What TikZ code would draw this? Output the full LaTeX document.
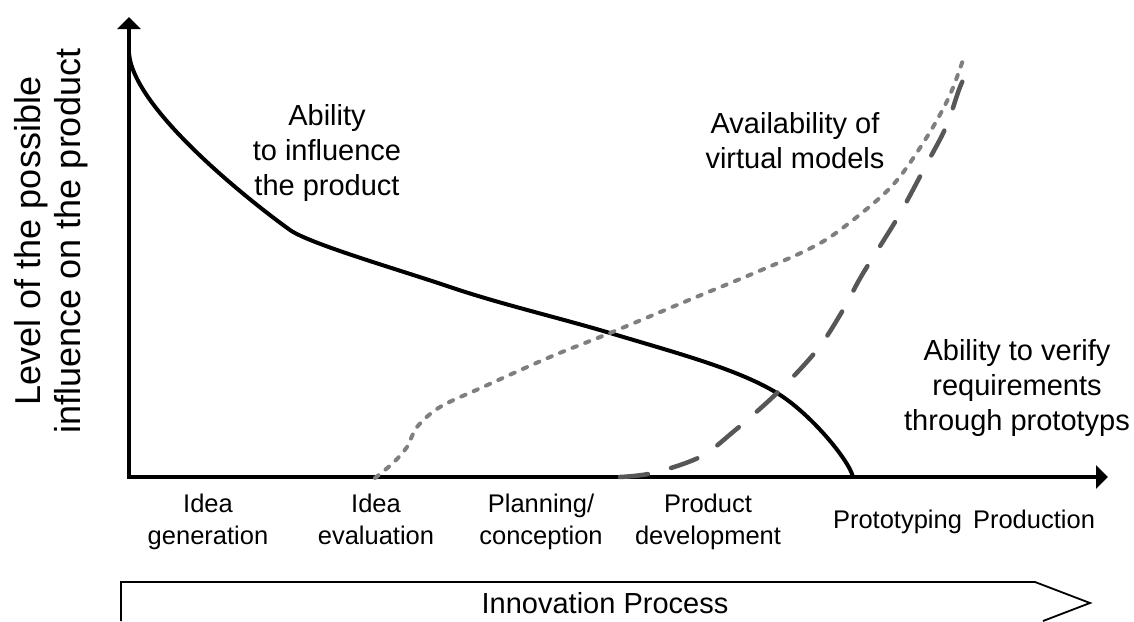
\documentclass[tikz,border=0pt]{standalone}
\usepackage{fontspec}
\setmainfont{Liberation Sans}
\usetikzlibrary{arrows.meta}
\definecolor{dotgray}{HTML}{7F7F7F}
\definecolor{dashgray}{HTML}{575757}
\begin{document}
\begin{tikzpicture}[x=1pt,y=-1pt,
  axisline/.style={line width=4.5pt,line join=miter,
    {Triangle[length=12pt,width=23pt]}-{Triangle[length=12pt,width=23pt]}},
  toplbl/.style={font=\fontsize{29}{35}\selectfont,align=center,inner sep=0pt},
  stagelbl/.style={font=\fontsize{25.5}{32}\selectfont,align=center,inner sep=0pt},
  ylbl/.style={font=\fontsize{36}{40}\selectfont,align=center,inner sep=0pt,rotate=90},
  proclbl/.style={font=\fontsize{29}{32}\selectfont,inner sep=0pt},
  influence/.style={line width=4pt,black},
  virtual/.style={line width=4pt,dotgray,line cap=round,dash pattern=on 4.5pt off 9pt},
  proto/.style={line width=4.5pt,dashgray,line cap=round,dash pattern=on 28pt off 24pt},
  procarrow/.style={line width=1.8pt,line join=miter}]
\useasboundingbox (0,0) rectangle (1134,621);

% axes
\coordinate (ytip) at (129,17);
\coordinate (O) at (129,477);
\coordinate (xtip) at (1108,477);
\draw[axisline] (ytip) -- (O) -- (xtip);

% ability to influence the product
\draw[influence] (129,53)
  .. controls (133,110) and (255,205) .. (290,230)
  .. controls (310,244) and (400,270) .. (450,287)
  .. controls (500,304) and (560,318) .. (610,333)
  .. controls (680,354) and (737,369) .. (777,393)
  .. controls (810,413) and (849,460) .. (853,477);

% availability of virtual models
\draw[virtual] plot[smooth,tension=0.55] coordinates {
  (375,478) (393,463) (407,447) (417,427) (440,407) (483,387) (550,357)
  (610,333) (689,300) (752,274) (807,250) (840,230) (891,187)
  (925,140) (949,97) (964,57)};

% ability to verify requirements through prototypes
\draw[proto] plot[smooth,tension=0.55] coordinates {
  (620,477) (653,473) (700,457) (733,432) (777,393) (817,350)
  (843,310) (862,275) (898,217) (925,167) (946,127) (960,87) (972,62)};

% labels
\node[ylbl] (ylabel) at (51,241) {Level of the possible\\influence on the product};
\node[toplbl] (lInfl) at (327,153) {Ability\\to influence\\the product};
\node[toplbl] (lVirt) at (795,141) {Availability of\\virtual models};
\node[toplbl] (lProt) at (1017,388) {Ability to verify\\requirements\\through prototyps};

\node[stagelbl] (s1) at (208,521.5) {Idea\\generation};
\node[stagelbl] (s2) at (376,519) {Idea\\evaluation};
\node[stagelbl] (s3) at (541,521.5) {Planning/\\conception};
\node[stagelbl] (s4) at (708,521.5) {Product\\development};
\node[stagelbl,anchor=base] (s5) at (897.5,528) {Prototyping};
\node[stagelbl,anchor=base] (s6) at (1034,528) {Production};

% innovation process arrow
\coordinate (p1) at (121,621);
\coordinate (p2) at (121,582);
\coordinate (p3) at (1035,582);
\coordinate (p4) at (1090,603);
\coordinate (p5) at (1043,621);
\draw[procarrow] (p1) -- (p2) -- (p3) -- (p4) -- (p5);
\node[proclbl,anchor=base] (proc) at (605,613) {Innovation Process};
\end{tikzpicture}
\end{document}
